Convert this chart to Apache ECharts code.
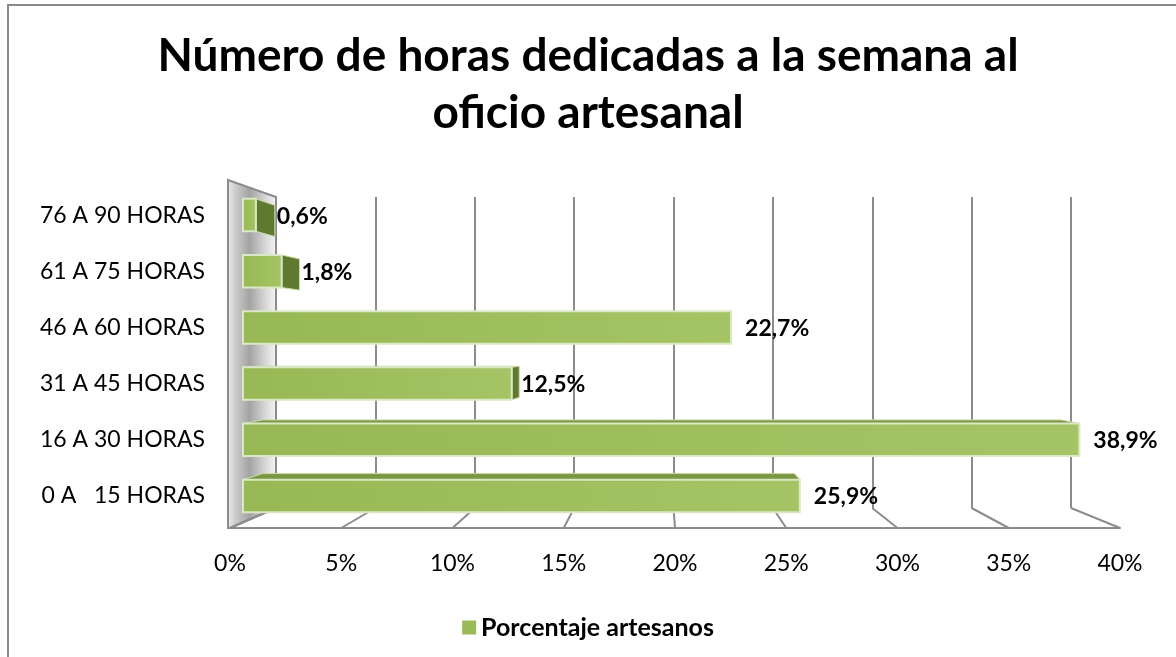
<!DOCTYPE html>
<html>
<head>
<meta charset="utf-8">
<script src="https://cdn.jsdelivr.net/npm/echarts@6/dist/echarts.min.js"></script>
<style>
  html, body { margin: 0; padding: 0; background: #fff; }
  #chart { width: 1176px; height: 657px; }
</style>
</head>
<body>
<div id="chart"></div>
<script>
// data
var categories = ['0 A   15 HORAS', '16 A 30 HORAS', '31 A 45 HORAS', '46 A 60 HORAS', '61 A 75 HORAS', '76 A 90 HORAS']
var percentages = [25.9, 38.9, 12.5, 22.7, 1.8, 0.6]
var tickValues = [0, 5, 10, 15, 20, 25, 30, 35, 40]
var seriesName = 'Porcentaje artesanos'

// fake 3D look (vanishing point + depth factor)
var VX = 677
var VY = 345
var DEPTH = 0.955
var FONT = 'Lato'

var chart = echarts.init(document.getElementById('chart'))

function renderBar (params, api) {
  var v = api.value(0)
  var idx = api.value(1)
  var end = api.coord([v, idx])
  var start = api.coord([0, idx])
  var h = api.size([0, 1])[1] * 0.58
  var x0 = start[0]
  var x1 = end[0]
  var y0 = end[1] - h / 2
  var y1 = end[1] + h / 2
  var back = function (x, y) {
    return [VX + DEPTH * (x - VX), VY + DEPTH * (y - VY)]
  }
  var children = []
  var labelX = x1 + 14
  if (y0 > VY) {
    var b0 = back(x0, y0)
    var b1 = back(x1, y0)
    children.push({
      type: 'polygon',
      shape: { points: [[x0, y0], [x1, y0], b1, b0] },
      style: { fill: '#7c9744', stroke: '#c9dba5', lineWidth: 1 }
    })
  }
  if (x1 < VX) {
    var s0 = back(x1, y0)
    var s1 = back(x1, y1)
    children.push({
      type: 'polygon',
      shape: { points: [[x1, y0], [x1, y1], s1, s0] },
      style: { fill: '#5f7a30', stroke: '#c9dba5', lineWidth: 1 }
    })
    labelX = s0[0] + 2
  }
  children.push({
    type: 'rect',
    shape: { x: x0, y: y0, width: x1 - x0, height: h },
    style: {
      fill: new echarts.graphic.LinearGradient(0, 0, 1, 0, [
        { offset: 0, color: '#98b855' },
        { offset: 1, color: '#a5c466' }
      ]),
      stroke: '#dbe8c4',
      lineWidth: 2
    }
  })
  children.push({
    type: 'text',
    x: labelX,
    y: end[1] + 1,
    style: {
      text: v.toFixed(1).replace('.', ',') + '%',
      fill: '#000',
      font: 'bold 23px ' + FONT,
      verticalAlign: 'middle',
      align: 'left'
    }
  })
  return { type: 'group', children: children }
}

function renderFloor (params, api) {
  var v = api.value(0)
  var f = api.coord([v, 0])
  var bx = chart.convertToPixel({ xAxisIndex: 0 }, v)
  var by = chart.convertToPixel({ yAxisIndex: 0 }, 0)
  var byTop = chart.convertToPixel({ yAxisIndex: 0 }, 1)
  var children = []
  if (params.dataIndex === 0) {
    // left wall
    children.push({
      type: 'polygon',
      shape: { points: [[f[0] - 2, byTop - 17], [bx, byTop], [bx, by], [f[0], f[1]], [f[0] - 2, f[1]]] },
      style: {
        fill: new echarts.graphic.LinearGradient(0, 0, 1, 0, [
          { offset: 0, color: '#f0f0f0' },
          { offset: 0.15, color: '#cfcfcf' },
          { offset: 0.45, color: '#a3a3a3' },
          { offset: 0.8, color: '#dcdcdc' },
          { offset: 1, color: '#f6f6f6' }
        ]),
        stroke: '#8c8c8c',
        lineWidth: 2
      }
    })
  }
  children.push({
    type: 'line',
    shape: { x1: bx, y1: by, x2: f[0], y2: f[1] },
    style: { stroke: '#8c8c8c', lineWidth: 2 }
  })
  return { type: 'group', children: children }
}

var option = {
  backgroundColor: '#fff',
  animation: false,
  title: {
    text: 'Número de horas dedicadas a la semana al\noficio artesanal',
    left: 'center',
    top: 23,
    textStyle: {
      fontFamily: FONT,
      fontSize: 46,
      fontWeight: 'bold',
      color: '#000',
      lineHeight: 57
    }
  },
  legend: {
    data: [seriesName],
    left: 'center',
    top: 610,
    itemWidth: 14,
    itemHeight: 14,
    itemGap: 8,
    icon: 'rect',
    textStyle: { fontFamily: FONT, fontSize: 25, fontWeight: 'bold', color: '#000' }
  },
  graphic: [{
    type: 'rect',
    shape: { x: 8, y: 5, width: 1200, height: 700 },
    style: { fill: 'none', stroke: '#888', lineWidth: 2 },
    silent: true
  }],
  grid: [
    { left: 276, right: 105, top: 197, bottom: 149 },
    { left: 243, right: 73, top: 187, bottom: 133 },
    { left: 230, right: 56, top: 520, bottom: 129 }
  ],
  xAxis: [
    {
      gridIndex: 0, type: 'value', min: 0, max: 40, interval: 5,
      axisLine: { show: false }, axisTick: { show: false }, axisLabel: { show: false },
      splitLine: { show: true, lineStyle: { color: '#8c8c8c', width: 2 } }
    },
    {
      gridIndex: 1, type: 'value', min: 0, max: 40, interval: 5, show: false
    },
    {
      gridIndex: 2, type: 'value', min: 0, max: 40, interval: 5,
      axisLine: { show: true, lineStyle: { color: '#8c8c8c', width: 2 } },
      axisTick: { show: false },
      splitLine: { show: false },
      axisLabel: {
        margin: 24,
        fontFamily: FONT, fontSize: 23, color: '#000',
        formatter: '{value}%'
      }
    }
  ],
  yAxis: [
    { gridIndex: 0, type: 'value', min: 0, max: 1, show: false },
    {
      gridIndex: 1, type: 'category', data: categories,
      axisLine: { show: false }, axisTick: { show: false },
      axisLabel: { margin: 38, fontFamily: FONT, fontSize: 23, color: '#000' }
    },
    { gridIndex: 2, type: 'value', min: 0, max: 1, show: false }
  ],
  series: [
    {
      type: 'custom',
      name: 'floor',
      xAxisIndex: 2,
      yAxisIndex: 2,
      z: 1,
      silent: true,
      renderItem: renderFloor,
      data: tickValues.map(function (v) { return [v, 0] })
    },
    {
      type: 'custom',
      name: seriesName,
      xAxisIndex: 1,
      yAxisIndex: 1,
      z: 5,
      itemStyle: { color: '#9bbb59' },
      renderItem: renderBar,
      encode: { x: 0, y: 1 },
      data: percentages.map(function (v, i) { return [v, i] })
    }
  ]
}

chart.setOption(option)
</script>
</body>
</html>
